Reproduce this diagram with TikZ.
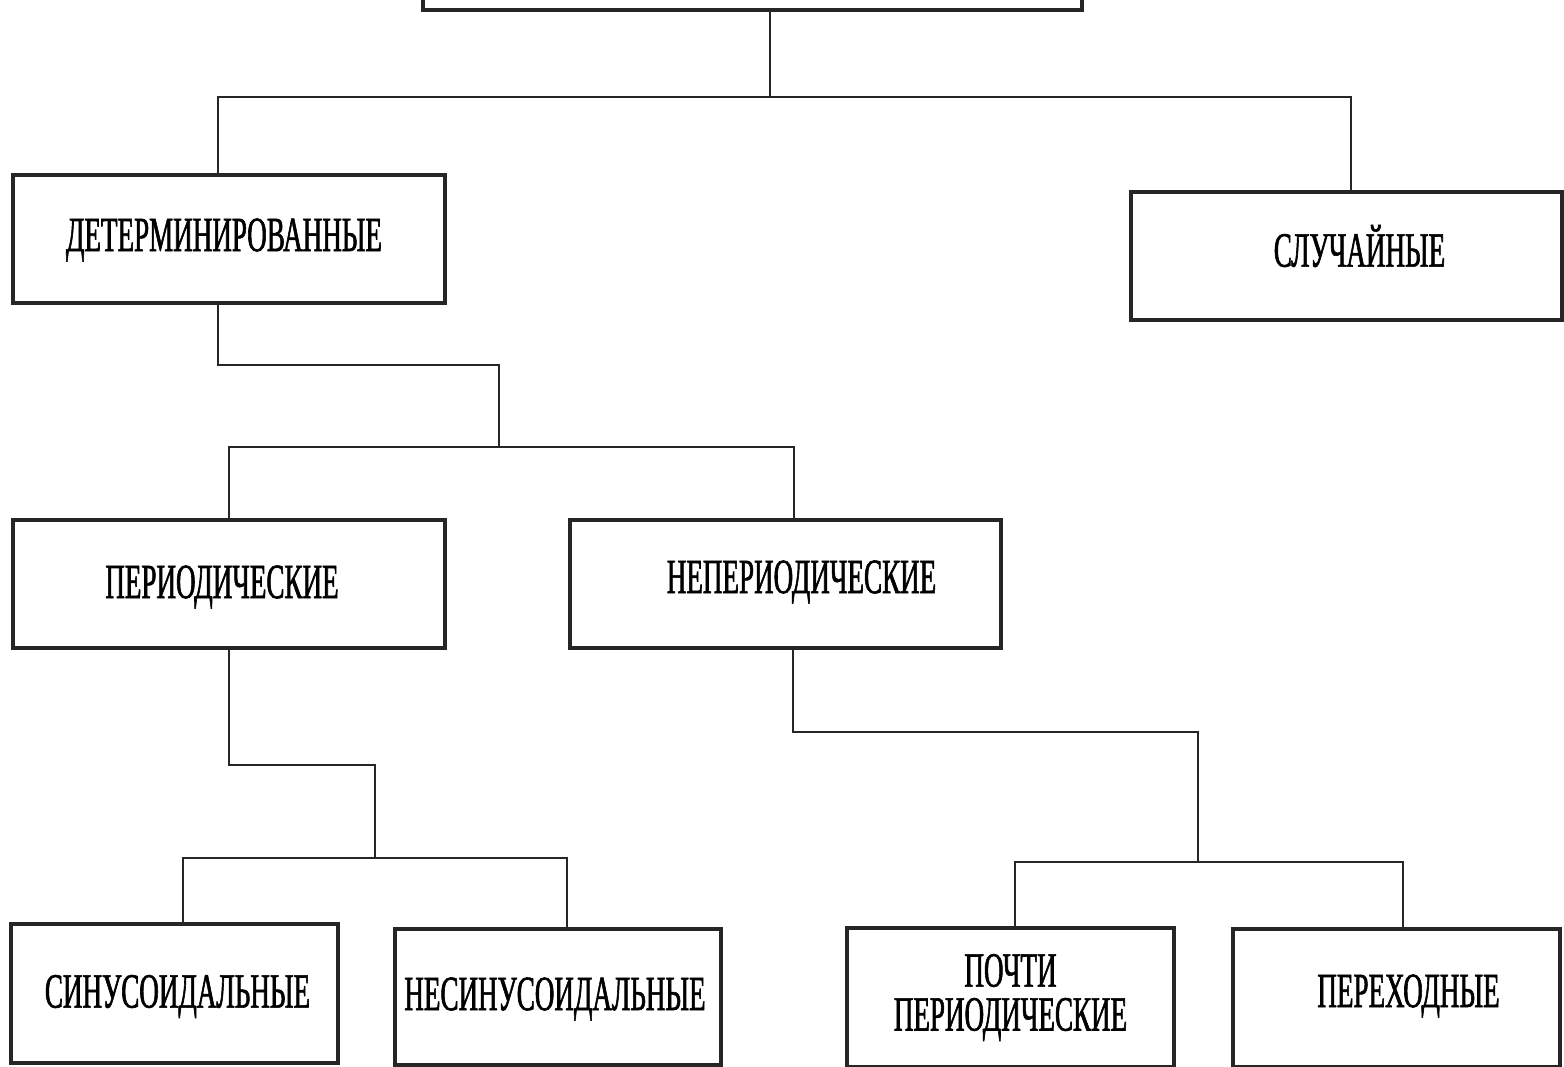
\documentclass[tikz,border=0pt]{standalone}
\usepackage{fontspec}
\setmainfont{Liberation Serif}[FakeStretch=0.55,FakeBold=1.2]
\begin{document}
\begin{tikzpicture}[x=0.01cm,y=-0.01cm,
  box/.style={draw=black!85,line width=1pt,rectangle,inner sep=0pt,align=center,font=\fontsize{14}{12.5}\selectfont},
  txt/.style={font=\fontsize{14}{12.5}\selectfont,align=center,inner sep=0pt},
  conn/.style={draw=black!85,line width=0.8pt}]
\useasboundingbox[fill=white] (0,0) rectangle (1564,1067);
% boxes
\node[box,minimum width=6.59cm,minimum height=0.6cm] (top) at (752.5,-20) {};
\node[box,minimum width=4.32cm,minimum height=1.28cm,label={[txt,xshift=-0.05cm,yshift=-0.01cm]center:ДЕТЕРМИНИРОВАННЫЕ}] (det) at (229,239) {};
\node[box,minimum width=4.31cm,minimum height=1.28cm,label={[txt,xshift=0.13cm,yshift=0.1cm]center:СЛУЧАЙНЫЕ}] (rnd) at (1346.5,256) {};
\node[box,minimum width=4.32cm,minimum height=1.28cm,label={[txt,xshift=-0.07cm,yshift=-0.03cm]center:ПЕРИОДИЧЕСКИЕ}] (per) at (229,584) {};
\node[box,minimum width=4.31cm,minimum height=1.28cm,label={[txt,xshift=0.16cm,yshift=0.02cm]center:НЕПЕРИОДИЧЕСКИЕ}] (nper) at (785.5,584) {};
\node[box,minimum width=3.27cm,minimum height=1.39cm,label={[txt,xshift=0.03cm,yshift=-0.03cm]center:СИНУСОИДАЛЬНЫЕ}] (sin) at (174.5,993.5) {};
\node[box,minimum width=3.26cm,minimum height=1.36cm,label={[txt,xshift=-0.03cm,yshift=-0.02cm]center:НЕСИНУСОИДАЛЬНЫЕ}] (nsin) at (558,997) {};
\node[box,minimum width=3.27cm,minimum height=1.39cm,label={[txt,yshift=0.0cm]center:ПОЧТИ\\ПЕРИОДИЧЕСКИЕ}] (alm) at (1010.5,997.5) {};
\node[box,minimum width=3.27cm,minimum height=1.38cm,label={[txt,xshift=0.12cm,yshift=0.02cm]center:ПЕРЕХОДНЫЕ}] (tr) at (1396.5,998) {};
% connectors
\coordinate (j0) at (770,97);
\coordinate (b1L) at (218,97);
\coordinate (b1R) at (1351,97);
\draw[conn] (j0 |- top.south) -- (j0);
\draw[conn] (b1L |- det.north) -- (b1L) -- (b1R) -- (b1R |- rnd.north);
\coordinate (k1) at (218,365);
\coordinate (k2) at (499,365);
\coordinate (b2L) at (229,447);
\coordinate (b2R) at (794,447);
\draw[conn] (k1 |- det.south) -- (k1) -- (k2) -- (k2 |- b2L);
\draw[conn] (b2L |- per.north) -- (b2L) -- (b2R) -- (b2R |- nper.north);
\coordinate (m1) at (229,765);
\coordinate (m2) at (375,765);
\coordinate (b3L) at (183,858);
\coordinate (b3R) at (567,858);
\draw[conn] (m1 |- per.south) -- (m1) -- (m2) -- (m2 |- b3L);
\draw[conn] (b3L |- sin.north) -- (b3L) -- (b3R) -- (b3R |- nsin.north);
\coordinate (n1) at (793,732);
\coordinate (n2) at (1198,732);
\coordinate (b4L) at (1015,862);
\coordinate (b4R) at (1403,862);
\draw[conn] (n1 |- nper.south) -- (n1) -- (n2) -- (n2 |- b4L);
\draw[conn] (b4L |- alm.north) -- (b4L) -- (b4R) -- (b4R |- tr.north);
\end{tikzpicture}
\end{document}
